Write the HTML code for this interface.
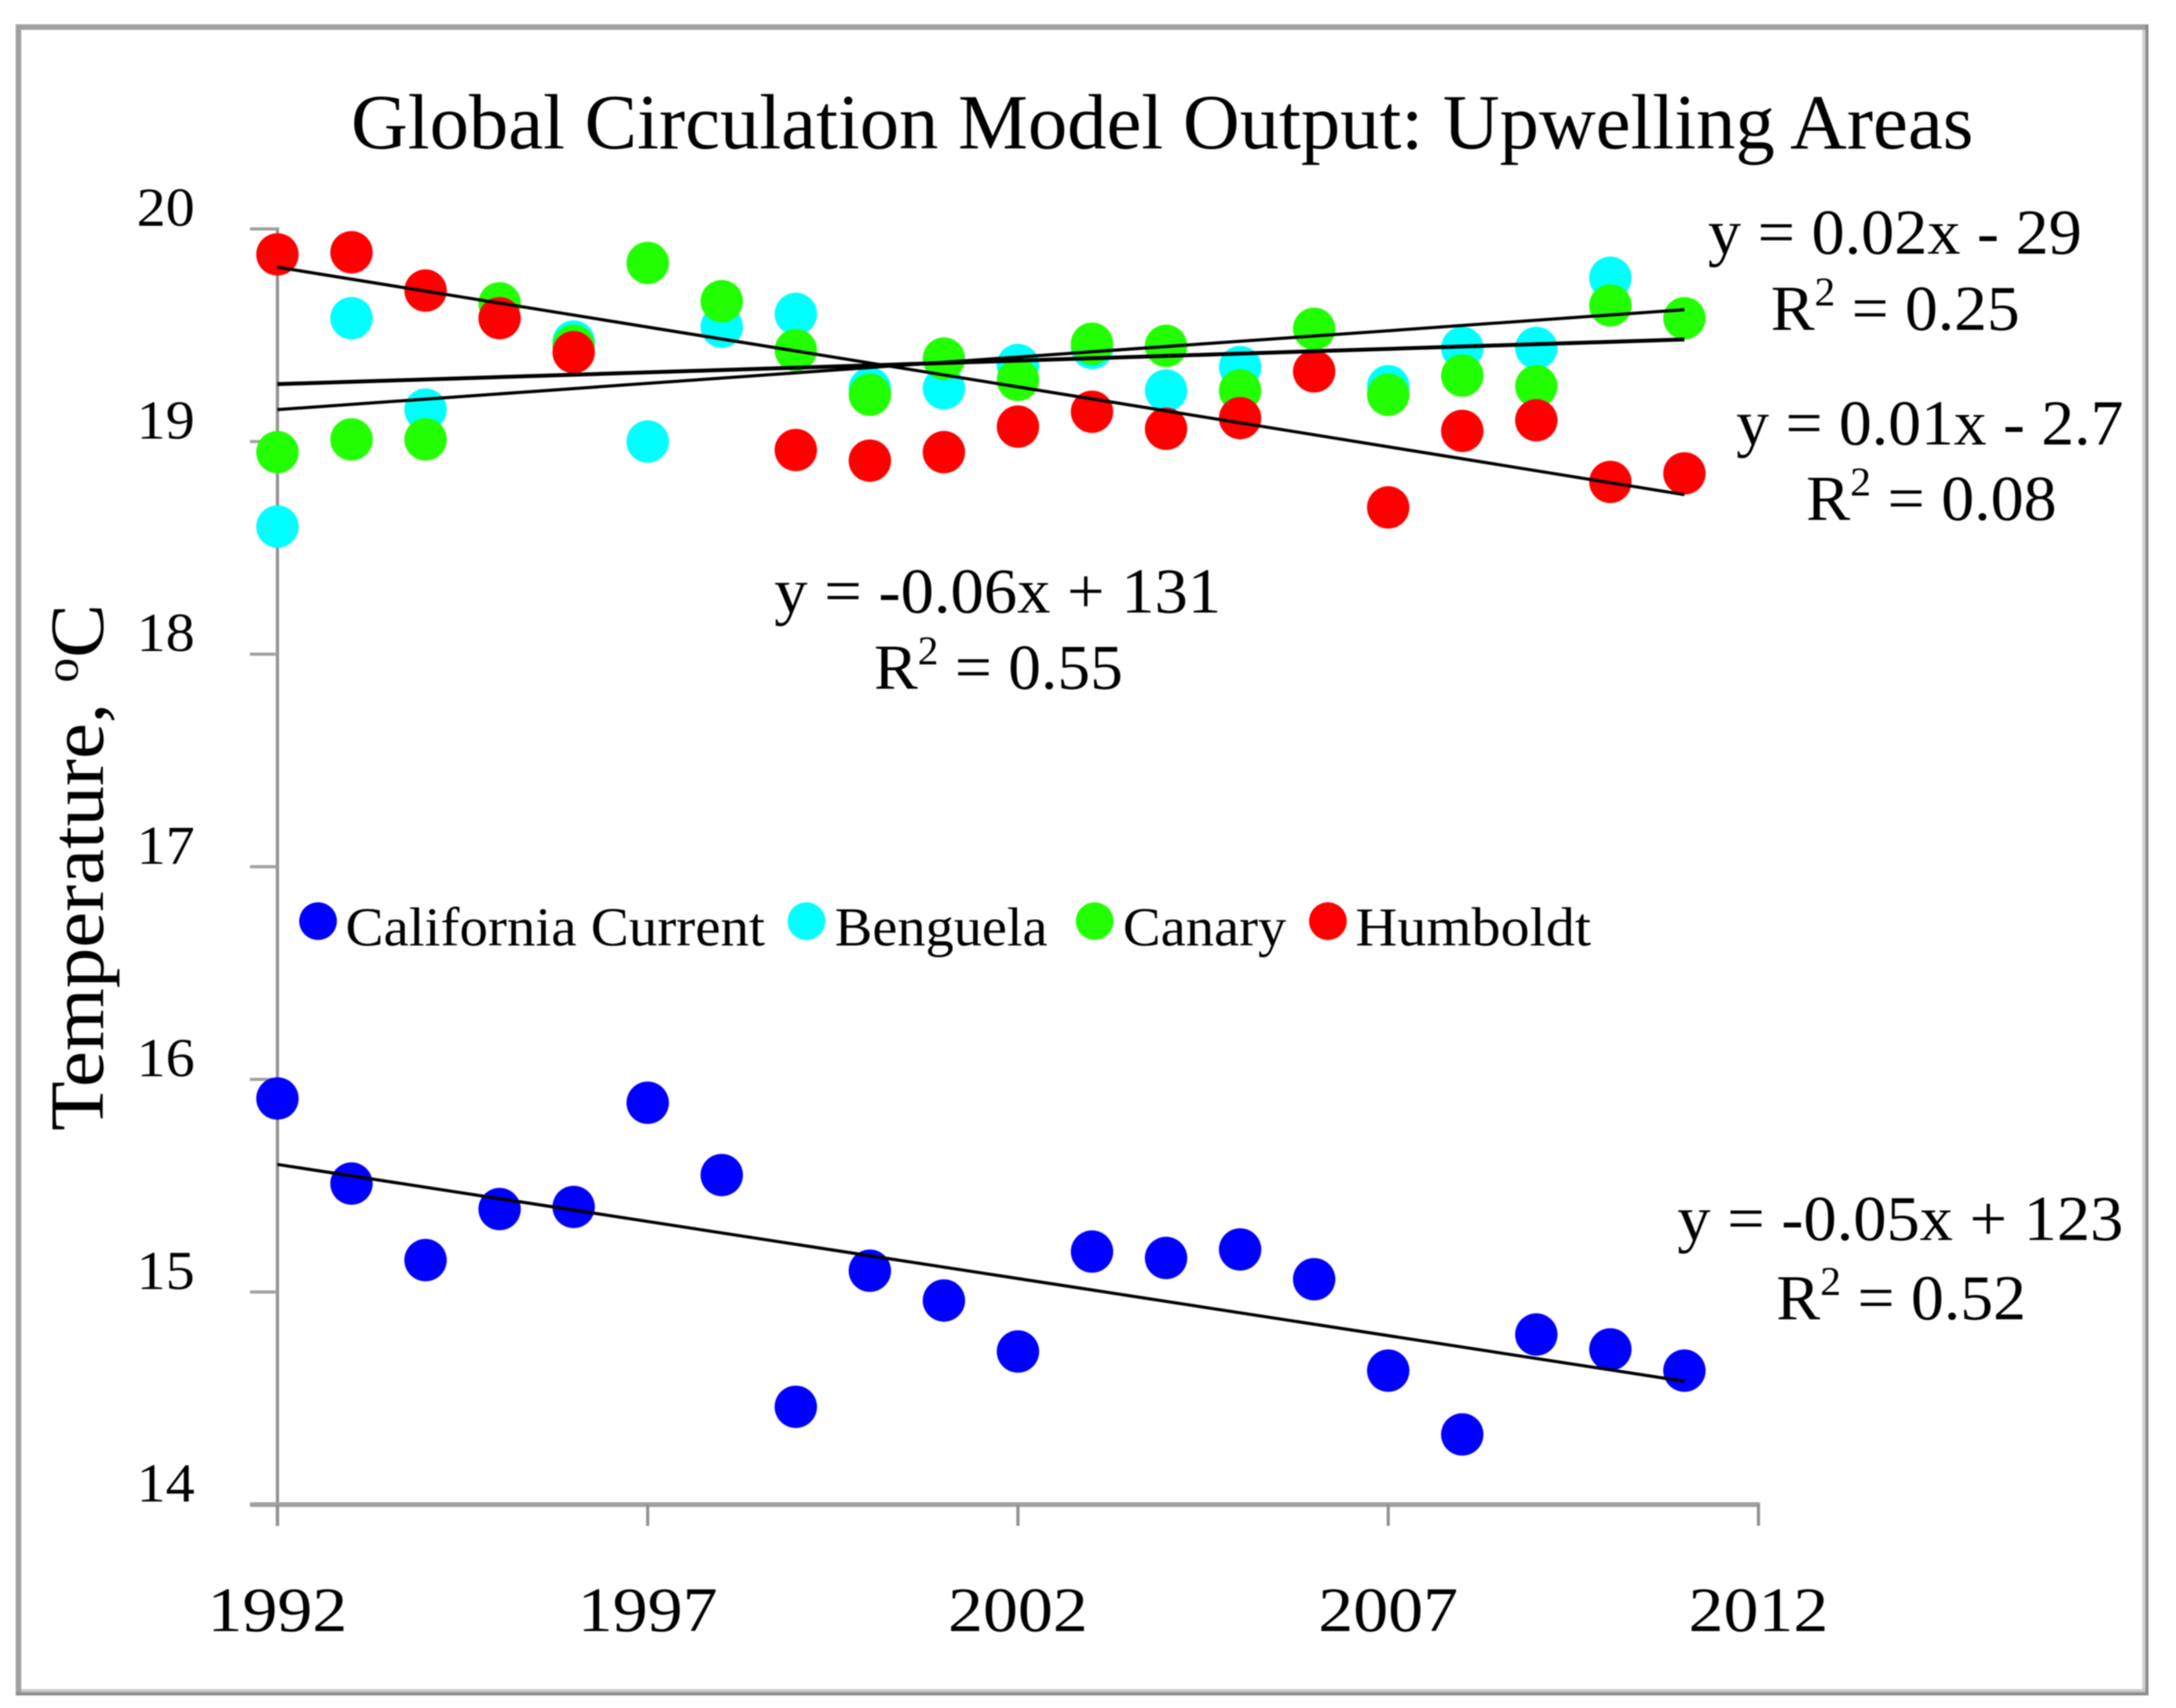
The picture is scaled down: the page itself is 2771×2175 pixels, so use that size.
<!DOCTYPE html>
<html lang="en">
<head>
<meta charset="utf-8">
<title>Global Circulation Model Output: Upwelling Areas</title>
<style>
  html, body { margin: 0; padding: 0; background: #fff; width: 2771px; height: 2175px; overflow: hidden; }
  svg { display: block; filter: blur(0.7px); }
  text { font-family: "Liberation Serif", serif; fill: #000; }
</style>
</head>
<body>
<svg id="chart" xmlns="http://www.w3.org/2000/svg" width="2771" height="2175" viewBox="0 0 2771 2175">
  <g>
    <rect x="20" y="31" width="2716" height="7" fill="#a0a0a0"/>
    <rect x="20" y="31" width="7" height="2128" fill="#a0a0a0"/>
    <rect x="2728" y="38" width="4" height="2117" fill="#d0d0d0"/>
    <rect x="27" y="2151" width="2705" height="4" fill="#c8c8c8"/>
    <rect x="2732" y="31" width="4" height="2128" fill="#8c8c8c"/>
    <rect x="20" y="2155" width="2716" height="4" fill="#8c8c8c"/>
  </g>
  <text x="447" y="189" font-size="100" textLength="2066" lengthAdjust="spacingAndGlyphs">Global Circulation Model Output: Upwelling Areas</text>
  <text transform="translate(131,1440) rotate(-90)" font-size="98" textLength="671" lengthAdjust="spacingAndGlyphs">Temperature, <tspan dy="-32" font-size="60">o</tspan><tspan dy="32">C</tspan></text>
  <g id="axes"></g>
  <g id="marks"></g>
  <g id="trends"></g>

  <g font-size="70">
    <ellipse cx="405" cy="1173" rx="24" ry="24" fill="#0000ff"/>
    <text x="440" y="1204" textLength="534" lengthAdjust="spacingAndGlyphs">California Current</text>
    <ellipse cx="1027" cy="1173" rx="24" ry="24" fill="#00ffff"/>
    <text x="1063" y="1204" textLength="271" lengthAdjust="spacingAndGlyphs">Benguela</text>
    <ellipse cx="1394" cy="1173" rx="24" ry="24" fill="#22ff00"/>
    <text x="1430" y="1204" textLength="208" lengthAdjust="spacingAndGlyphs">Canary</text>
    <ellipse cx="1691" cy="1173" rx="24" ry="24" fill="#ff0000"/>
    <text x="1726" y="1204" textLength="300" lengthAdjust="spacingAndGlyphs">Humboldt</text>
  </g>

  <g font-size="82">
    <text x="2175" y="323" textLength="476" lengthAdjust="spacingAndGlyphs">y = 0.02x - 29</text>
    <text x="2255" y="420" textLength="317" lengthAdjust="spacingAndGlyphs">R<tspan dy="-31" font-size="52">2</tspan><tspan dy="31"> = 0.25</tspan></text>
    <text x="2211" y="566" textLength="493" lengthAdjust="spacingAndGlyphs">y = 0.01x - 2.7</text>
    <text x="2300" y="662" textLength="319" lengthAdjust="spacingAndGlyphs">R<tspan dy="-31" font-size="52">2</tspan><tspan dy="31"> = 0.08</tspan></text>
    <text x="986" y="780" textLength="569" lengthAdjust="spacingAndGlyphs">y = -0.06x + 131</text>
    <text x="1113" y="877" textLength="317" lengthAdjust="spacingAndGlyphs">R<tspan dy="-31" font-size="52">2</tspan><tspan dy="31"> = 0.55</tspan></text>
    <text x="2136" y="1579" textLength="568" lengthAdjust="spacingAndGlyphs">y = -0.05x + 123</text>
    <text x="2262" y="1680" textLength="318" lengthAdjust="spacingAndGlyphs">R<tspan dy="-31" font-size="52">2</tspan><tspan dy="31"> = 0.52</tspan></text>
  </g>
</svg>
<script>
const years = [1992,1993,1994,1995,1996,1997,1998,1999,2000,2001,2002,2003,2004,2005,2006,2007,2008,2009,2010,2011];
const california = [15.91,15.51,15.15,15.39,15.40,15.89,15.55,14.46,15.10,14.96,14.72,15.19,15.16,15.20,15.06,14.63,14.33,14.80,14.73,14.63];
const benguela = [18.60,19.58,19.15,null,19.47,19.00,19.54,19.60,19.25,19.25,19.36,19.44,19.24,19.35,null,19.26,19.44,19.44,19.77,null];
const canary = [18.95,19.01,19.01,19.65,19.45,19.84,19.66,19.43,19.22,19.39,19.29,19.46,19.45,19.24,19.53,19.22,19.31,19.26,19.64,19.58];
const humboldt = [19.88,19.89,19.71,19.58,19.42,null,null,18.96,18.91,18.95,19.07,19.14,19.06,19.11,19.33,18.69,19.05,19.10,18.81,18.85];
const trendYears = [1992,2011];
const californiaTrend = [15.60,14.58];
const humboldtTrend = [19.82,18.75];
const canaryTrend = [19.15,19.62];
const benguelaTrend = [19.27,19.48];
const yTicks = [14,15,16,17,18,19,20];
const xTicks = [1992,1997,2002,2007,2012];

const NS = 'http://www.w3.org/2000/svg';
const X0 = 353.3, X1 = 2239.3, Y0 = 1916, Y1 = 291.5;
function xScale(year) { return X0 + (year - 1992) * (X1 - X0) / 20; }
function yScale(val) { return Y0 - (val - 14) * (Y0 - Y1) / 6; }
function make(tag, attrs, parent) {
  const el = document.createElementNS(NS, tag);
  Object.keys(attrs).forEach(function (k) { el.setAttribute(k, attrs[k]); });
  parent.appendChild(el);
  return el;
}
const axes = document.getElementById('axes');
const marks = document.getElementById('marks');
const trends = document.getElementById('trends');

const yAxis = make('line', { x1: X0, x2: X0, y1: Y1 - 2, y2: Y0 + 27, stroke: '#909090', 'stroke-width': 4 }, axes);


const xAxis = make('line', { x1: X0 - 35, x2: X1 + 2, y1: Y0, y2: Y0, stroke: '#a0a0a0', 'stroke-width': 6 }, axes);



yTicks.forEach(function (t) {
  const tick = make('line', { x1: X0 - 35, x2: X0, y1: yScale(t), y2: yScale(t), stroke: '#a0a0a0', 'stroke-width': 4 }, axes);
  
  
  const label = make('text', { x: 174, y: yScale(t) - 4, 'font-size': 70, textLength: 74, lengthAdjust: 'spacingAndGlyphs' }, axes);
  label.textContent = String(t);
  
  
});
xTicks.forEach(function (t) {
  const tick = make('line', { x1: xScale(t), x2: xScale(t), y1: Y0, y2: Y0 + 27, stroke: '#909090', 'stroke-width': 4 }, axes);
  
  
  const label = make('text', { x: xScale(t) - 89, y: 2077, 'font-size': 80, textLength: 178, lengthAdjust: 'spacingAndGlyphs' }, axes);
  label.textContent = String(t);
  
  
});

function drawSeries(values, color) {
  values.forEach(function (v, i) {
    if (v === null) return;
    const dot = make('circle', { cx: xScale(years[i]), cy: yScale(v), r: 27, fill: color }, marks);
    
    
  });
}
drawSeries(california, '#0000ff');
drawSeries(benguela, '#00ffff');
drawSeries(canary, '#22ff00');
drawSeries(humboldt, '#ff0000');

function drawTrend(values, width) {
  const line = make('line', {
    x1: xScale(trendYears[0]), y1: yScale(values[0]),
    x2: xScale(trendYears[1]), y2: yScale(values[1]),
    stroke: '#000', 'stroke-width': width
  }, trends);
  
  
}
drawTrend(californiaTrend, 4);
drawTrend(humboldtTrend, 4);
drawTrend(canaryTrend, 4);
drawTrend(benguelaTrend, 5);
</script>
</body>
</html>
